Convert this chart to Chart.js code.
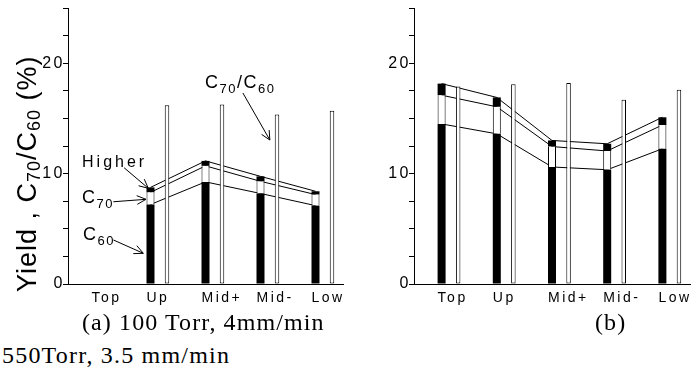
<!DOCTYPE html>
<html>
<head>
<meta charset="utf-8">
<script src="https://cdn.jsdelivr.net/npm/chart.js@4/dist/chart.umd.min.js"></script>
<style>
  html, body { margin: 0; padding: 0; background: #fff; }
  body { width: 699px; height: 372px; overflow: hidden; position: relative; }
  #ca { position: absolute; left: 0; top: 0; }
  #cb { position: absolute; left: 350px; top: 0; }
  .cap { position: absolute; font-family: 'Liberation Serif', 'Times New Roman', serif; font-size: 24px;
         line-height: 1; white-space: nowrap; color: #000; }
  #capA { left: 82px; top: 310px; letter-spacing: 1.1px; }
  #capB { left: 595px; top: 310px; letter-spacing: 1.1px; }
  #capC { left: 2px; top: 343px; letter-spacing: 1.2px; }
</style>
</head>
<body>
<canvas id="ca" width="350" height="310"></canvas>
<canvas id="cb" width="349" height="310"></canvas>
<div class="cap" id="capA">(a) 100 Torr, 4mm/min</div>
<div class="cap" id="capB">(b)</div>
<div class="cap" id="capC">550Torr, 3.5 mm/min</div>
<script>
// ---- data ----
const categories = ['Top', 'Up', 'Mid+', 'Mid-', 'Low'];
// panel (a) 100 Torr, 4 mm/min
const aC60    = [null, 7.2, 9.25, 8.2, 7.1];
const aC70    = [null, 1.1, 1.45, 1.1, 1.0];
const aHigher = [null, 0.45, 0.45, 0.45, 0.3];
const aRatio  = [null, 16.2, 16.25, 15.35, 15.7];
// panel (b)
const bC60    = [14.5, 13.6, 10.6, 10.35, 12.25];
const bC70    = [2.6, 2.45, 1.85, 1.7, 2.15];
const bHigher = [1.05, 0.85, 0.55, 0.65, 0.7];
const bRatio  = [17.9, 18.1, 18.2, 16.7, 17.6];
// y axis
const yMin = 0, yMax = 25, yStep = 2.5, yLabelEvery = 10;

const SANS = "'Liberation Sans', Arial, Helvetica, sans-serif";

function cumulative(base, add) {
  return base.map((v, i) => (v == null || add[i] == null) ? null : v + add[i]);
}

const spacingPlugin = {
  id: 'spacing',
  beforeDraw(chart) { chart.ctx.letterSpacing = '2.5px'; }
};

function drawRich(ctx, parts, x, y, mainSize, subSize, subDy, spacing) {
  let cx = x;
  ctx.letterSpacing = spacing + 'px';
  ctx.textAlign = 'left';
  ctx.textBaseline = 'alphabetic';
  for (const [txt, sub] of parts) {
    ctx.font = (sub ? subSize : mainSize) + 'px ' + SANS;
    ctx.fillText(txt, cx, y + (sub ? subDy : 0));
    cx += ctx.measureText(txt).width;
  }
  return cx;
}

function arrow(ctx, x1, y1, x2, y2) {
  ctx.beginPath();
  ctx.moveTo(x1, y1);
  ctx.lineTo(x2, y2);
  const a = Math.atan2(y2 - y1, x2 - x1);
  const L = 10, w = 0.45;
  ctx.moveTo(x2 - L * Math.cos(a - w), y2 - L * Math.sin(a - w));
  ctx.lineTo(x2, y2);
  ctx.lineTo(x2 - L * Math.cos(a + w), y2 - L * Math.sin(a + w));
  ctx.stroke();
}

// annotation anchors in (category index, value) units
const annotations = [
  { parts: [['Higher', 0]], size: 16, at: [-0.245, 10.6], from: [0.52, 10.53], to: [0.96, 8.67] },
  { parts: [['C', 0], ['70', 1]], size: 18, at: [-0.245, 7.34], from: [0.324, 7.45], to: [0.918, 7.67] },
  { parts: [['C', 0], ['60', 1]], size: 18, at: [-0.227, 3.99], from: [0.324, 3.99], to: [0.869, 2.78] },
  { parts: [['C', 0], ['70', 1], ['/C', 0], ['60', 1]], size: 18, at: [1.99, 17.75], from: [2.68, 17.3], to: [3.17, 13.04] }
];

const annotPlugin = {
  id: 'annot',
  afterDraw(chart) {
    const { ctx, scales: { x, y }, chartArea } = chart;
    const P = (p) => [x.getPixelForValue(p[0]), y.getPixelForValue(p[1])];
    ctx.save();
    ctx.fillStyle = '#000';
    ctx.strokeStyle = '#000';
    ctx.lineWidth = 1;
    for (const an of annotations) {
      const [tx, ty] = P(an.at);
      if (an.parts.length === 1) {
        drawRich(ctx, an.parts, tx, ty, an.size, 13, 5, 3);
      } else {
        drawRich(ctx, an.parts, tx, ty, an.size, 13, 5, 1.5);
      }
      const [fx, fy] = P(an.from);
      const [ex, ey] = P(an.to);
      arrow(ctx, fx, fy, ex, ey);
    }
    // rotated y-axis title
    ctx.save();
    ctx.translate(chartArea.left - 32, chartArea.bottom + 8);
    ctx.rotate(-Math.PI / 2);
    drawRich(ctx, [['Yield , C', 0], ['70', 1], ['/C', 0], ['60', 1], [' (%)', 0]], 0, 0, 27, 18, 4, 1);
    ctx.restore();
    ctx.restore();
  }
};

function buildChart(id, c60, c70, hi, ratio, yAxisW, padR, plugins) {
  const top1 = c60.slice();
  const top2 = cumulative(c60, c70);
  const top3 = cumulative(top2, hi);
  const barCommon = { categoryPercentage: 0.9, barPercentage: 1, order: 1, borderSkipped: false };
  const lineCommon = { type: 'line', order: 2, borderColor: '#000', borderWidth: 1, pointRadius: 0, fill: false, tension: 0 };
  return new Chart(document.getElementById(id), {
    type: 'bar',
    data: {
      labels: categories,
      datasets: [
        { ...barCommon, label: 'pad', data: categories.map(() => null), stack: 'pad', backgroundColor: 'rgba(0,0,0,0)' },
        { ...barCommon, label: 'C60', data: c60, stack: 'yield', backgroundColor: '#000', borderWidth: 0, maxBarThickness: 8 },
        { ...barCommon, label: 'C70', data: c70, stack: 'yield', backgroundColor: '#fff', borderColor: '#000',
          borderWidth: { left: 1, right: 1, top: 0, bottom: 0 }, maxBarThickness: 8 },
        { ...barCommon, label: 'Higher', data: hi, stack: 'yield', backgroundColor: '#000', borderWidth: 0, maxBarThickness: 8 },
        { ...barCommon, label: 'C70/C60', data: ratio, stack: 'ratio', backgroundColor: '#fff', borderColor: '#000', borderWidth: 1, maxBarThickness: 4.5 },
        { ...lineCommon, label: 'l1', data: top1, stack: 'l1' },
        { ...lineCommon, label: 'l2', data: top2, stack: 'l2' },
        { ...lineCommon, label: 'l3', data: top3, stack: 'l3' }
      ]
    },
    options: {
      responsive: false,
      animation: false,
      devicePixelRatio: 1,
      layout: { padding: { left: 0, right: padR, top: 8, bottom: 0 } },
      plugins: { legend: { display: false }, tooltip: { enabled: false }, title: { display: false } },
      scales: {
        x: {
          type: 'category',
          offset: true,
          grid: { display: false, drawTicks: false },
          border: { display: true, color: '#000', width: 1 },
          ticks: { align: 'start', labelOffset: -4, padding: 6, color: '#000', maxRotation: 0, autoSkip: false,
                   font: { family: SANS, size: 14 } },
          afterFit: (s) => { s.height = 26; s.paddingLeft = 0; s.paddingRight = 0; }
        },
        y: {
          stacked: true,
          min: yMin, max: yMax,
          grid: { drawOnChartArea: false, drawTicks: true, tickLength: 5, color: '#000', tickColor: '#000', lineWidth: 1 },
          border: { display: true, color: '#000', width: 1 },
          ticks: { stepSize: yStep, autoSkip: false, padding: -2, color: '#000', font: { family: SANS, size: 16 },
                   callback: (v) => (v % yLabelEvery === 0 ? String(v) : '') },
          afterFit: (s) => { s.width = yAxisW; s.paddingTop = 0; s.paddingBottom = 0; }
        }
      }
    },
    plugins: [spacingPlugin, ...plugins]
  });
}

buildChart('ca', aC60, aC70, aHigher, aRatio, 68, 7, [annotPlugin]);
buildChart('cb', bC60, bC70, bHigher, bRatio, 64, 9, []);
</script>
</body>
</html>
